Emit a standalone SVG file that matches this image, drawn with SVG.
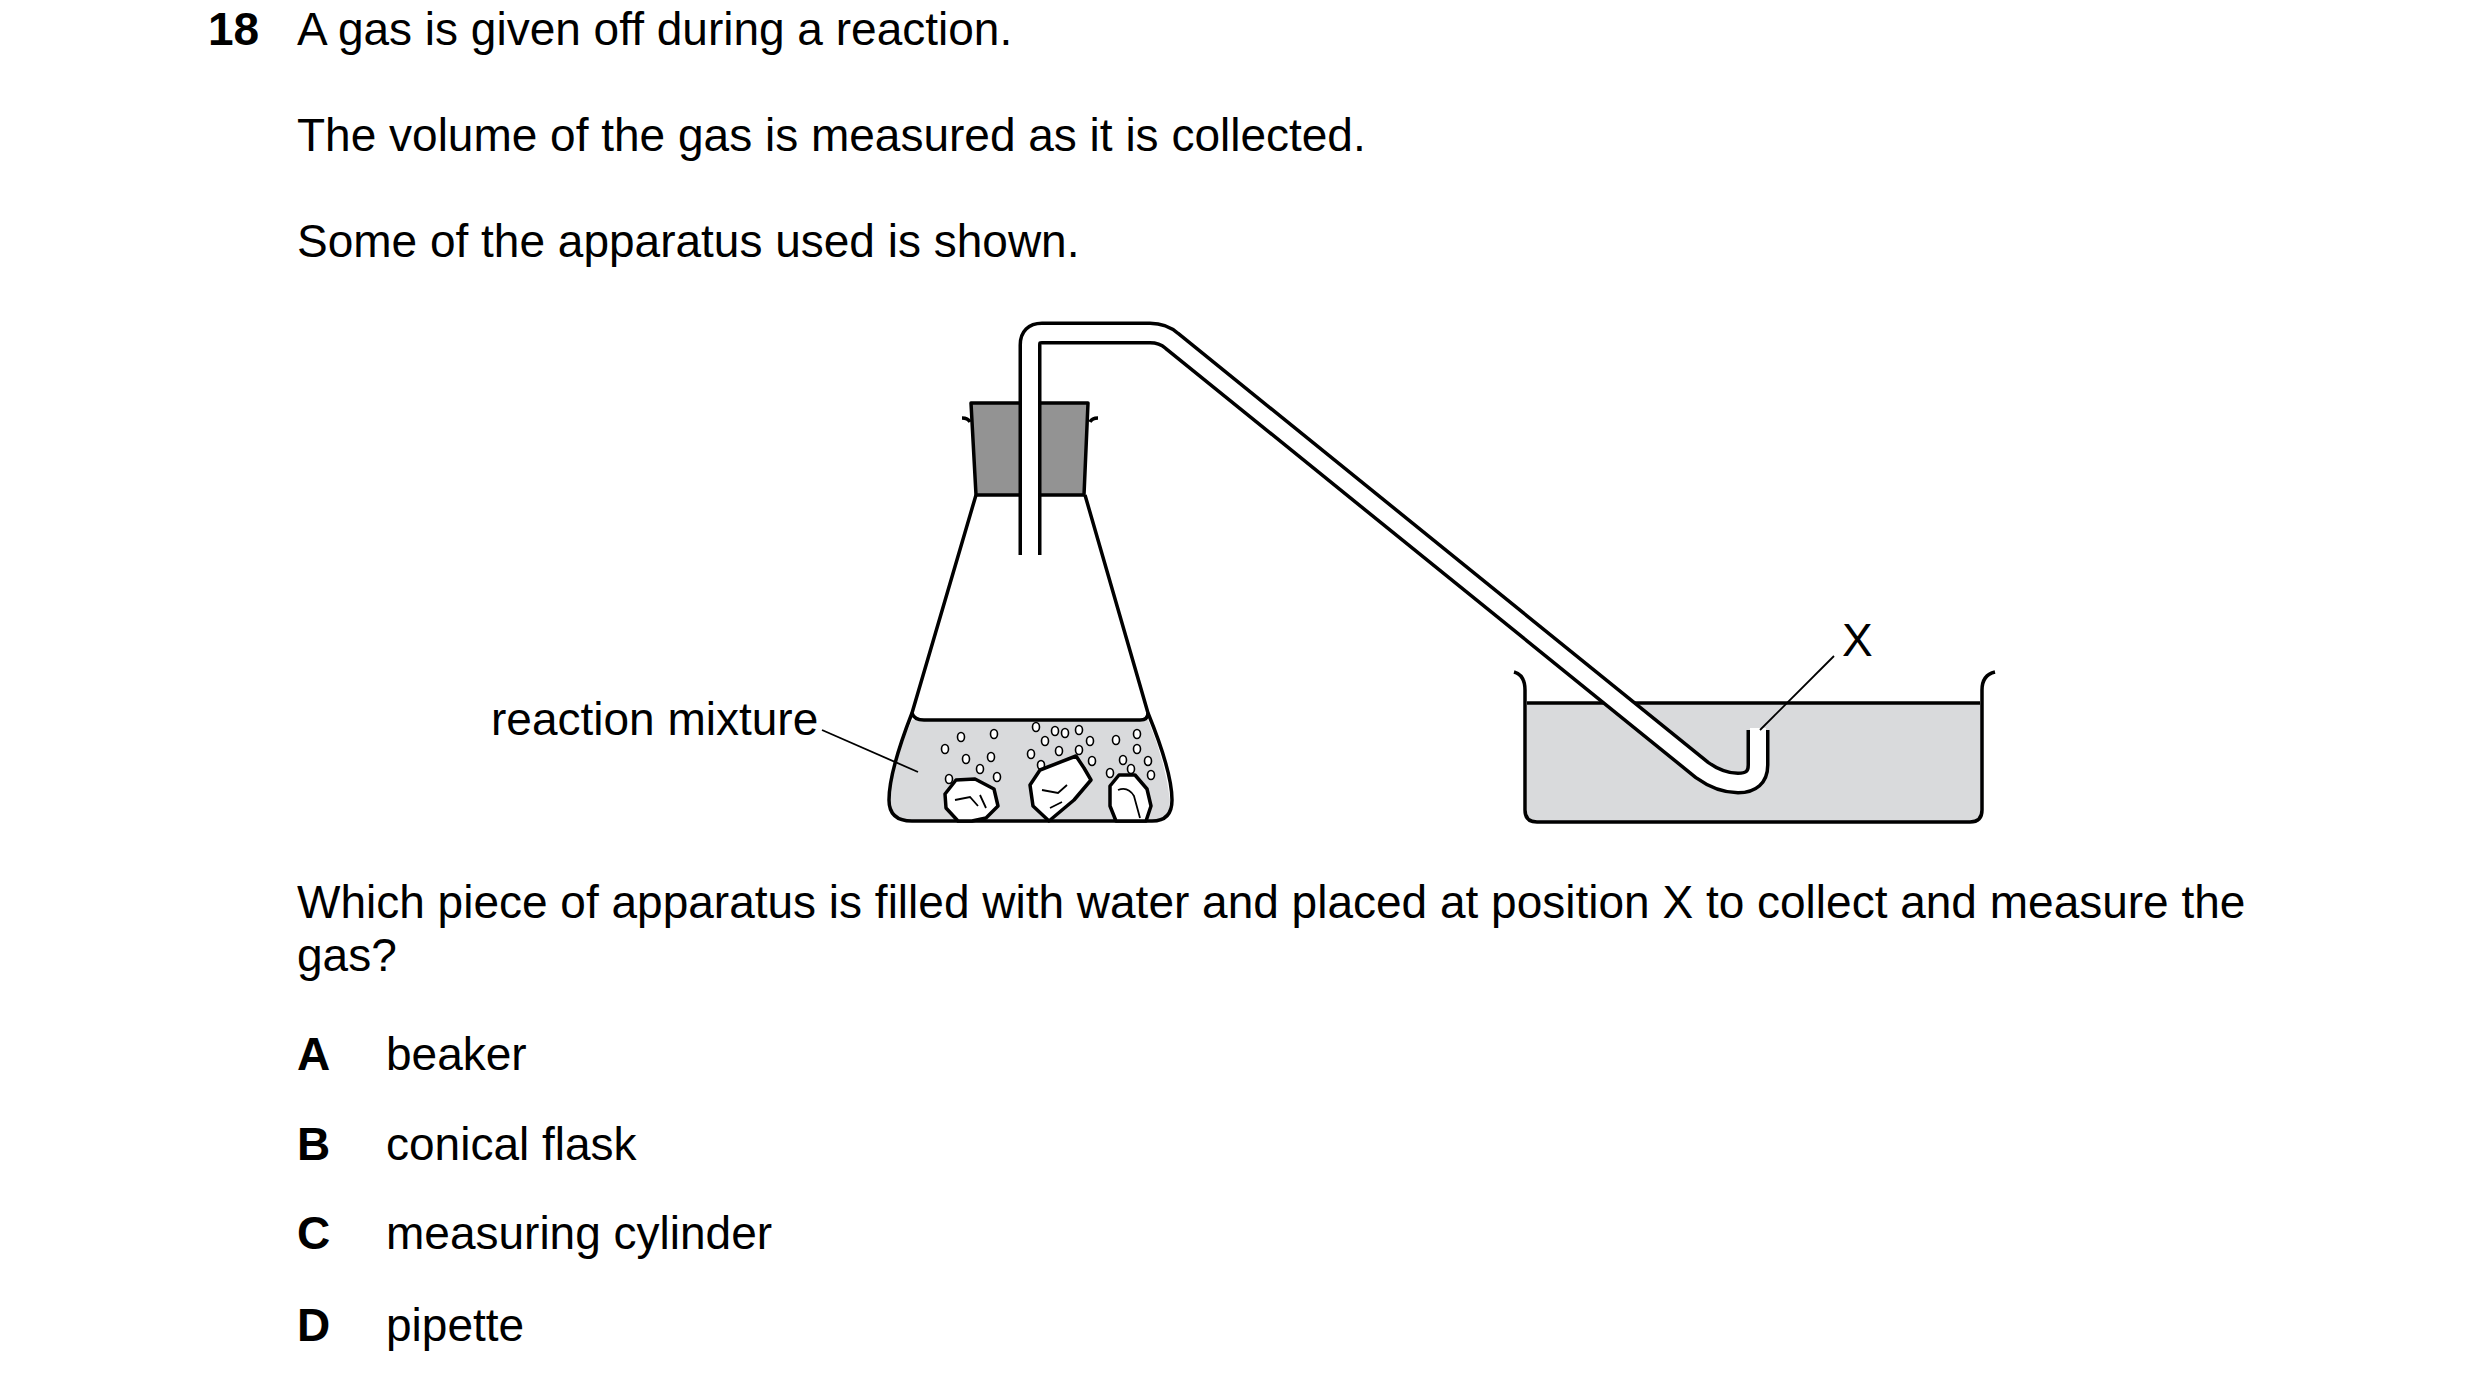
<svg xmlns="http://www.w3.org/2000/svg" width="2480" height="1385" viewBox="0 0 2480 1385">
<style>
text{font-family:"Liberation Sans",Arial,sans-serif;font-size:46px;fill:#000}
.b{font-weight:bold}
.ln{fill:none;stroke:#000;stroke-width:3.5;stroke-linejoin:round}
.thin{fill:none;stroke:#000;stroke-width:1.8}
.bub{fill:#fff;stroke:#000;stroke-width:1.6}
.rock{fill:#fff;stroke:#000;stroke-width:3.5;stroke-linejoin:round}
</style>
<rect width="2480" height="1385" fill="#fff"/>
<g id="question">
<text x="208" y="45" class="b">18</text>
<text x="297" y="45">A gas is given off during a reaction.</text>
<text x="297" y="151">The volume of the gas is measured as it is collected.</text>
<text x="297" y="257">Some of the apparatus used is shown.</text>
<text x="297" y="918">Which piece of apparatus is filled with water and placed at position X to collect and measure the</text>
<text x="297" y="971">gas?</text>
</g>
<g id="options">
<text x="297" y="1070" class="b">A</text><text x="386" y="1070">beaker</text>
<text x="297" y="1160" class="b">B</text><text x="386" y="1160">conical flask</text>
<text x="297" y="1249" class="b">C</text><text x="386" y="1249">measuring cylinder</text>
<text x="297" y="1341" class="b">D</text><text x="386" y="1341">pipette</text>
</g>
<g id="basin">
<path d="M1527,703 H1982 V810 Q1982,822 1970,822 H1539 Q1527,822 1527,810 Z" fill="#d9dadc"/>
<path class="ln" d="M1514,672 Q1525,675 1525,690 V810 Q1525,822 1537,822 H1970 Q1982,822 1982,810 V690 Q1982,675 1995,672"/>
<line class="ln" x1="1527" y1="703" x2="1980" y2="703"/>
</g>
<g id="flask">
<path d="M912,720 H1148 Q1165,760 1170,800 Q1170,821 1152,821 H910 Q889,821 889,800 Q894,760 912,720 Z" fill="#d9dadc"/>
<path class="ln" d="M976,495 L912,713 Q889,772 889,800 Q889,821 912,821 H1152 Q1172,821 1172,800 Q1172,772 1148,713 L1085,495"/>
<path class="ln" d="M912,713 Q914,720 924,720 H1140 Q1148,720 1148,713"/>
<path class="ln" d="M962,418 Q968,418 970,422 M1098,418 Q1092,418 1090,422"/>
<path d="M971,403 H1088 L1084,495 H976 Z" fill="#939393" stroke="#000" stroke-width="3.5" stroke-linejoin="round"/>
<g id="bubbles">
<ellipse class="bub" cx="961" cy="737" rx="3.5" ry="4.5"/><ellipse class="bub" cx="994" cy="734" rx="3.5" ry="4.5"/>
<ellipse class="bub" cx="945" cy="749" rx="3.5" ry="4.5"/><ellipse class="bub" cx="966" cy="759" rx="3.5" ry="4.5"/>
<ellipse class="bub" cx="991" cy="757" rx="3.5" ry="4.5"/><ellipse class="bub" cx="980" cy="769" rx="3.5" ry="4.5"/>
<ellipse class="bub" cx="997" cy="777" rx="3.5" ry="4.5"/><ellipse class="bub" cx="949" cy="779" rx="3.5" ry="4.5"/>
<ellipse class="bub" cx="1036" cy="727" rx="3.5" ry="4.5"/><ellipse class="bub" cx="1055" cy="731" rx="3.5" ry="4.5"/>
<ellipse class="bub" cx="1065" cy="733" rx="3.5" ry="4.5"/><ellipse class="bub" cx="1079" cy="730" rx="3.5" ry="4.5"/>
<ellipse class="bub" cx="1045" cy="741" rx="3.5" ry="4.5"/><ellipse class="bub" cx="1090" cy="741" rx="3.5" ry="4.5"/>
<ellipse class="bub" cx="1059" cy="751" rx="3.5" ry="4.5"/><ellipse class="bub" cx="1079" cy="750" rx="3.5" ry="4.5"/>
<ellipse class="bub" cx="1031" cy="754" rx="3.5" ry="4.5"/><ellipse class="bub" cx="1092" cy="761" rx="3.5" ry="4.5"/>
<ellipse class="bub" cx="1041" cy="765" rx="3.5" ry="4.5"/><ellipse class="bub" cx="1116" cy="740" rx="3.5" ry="4.5"/>
<ellipse class="bub" cx="1137" cy="734" rx="3.5" ry="4.5"/><ellipse class="bub" cx="1137" cy="749" rx="3.5" ry="4.5"/>
<ellipse class="bub" cx="1123" cy="760" rx="3.5" ry="4.5"/><ellipse class="bub" cx="1148" cy="761" rx="3.5" ry="4.5"/>
<ellipse class="bub" cx="1131" cy="769" rx="3.5" ry="4.5"/><ellipse class="bub" cx="1110" cy="773" rx="3.5" ry="4.5"/>
<ellipse class="bub" cx="1151" cy="775" rx="3.5" ry="4.5"/>
</g>
<g id="rocks">
<path class="rock" d="M958,821 L946,808 L945,794 L956,780 L975,779 L994,789 L998,806 L986,818 L972,821 Z"/>
<path class="thin" d="M955,800 L970,797 L978,806 M980,795 L986,808"/>
<path class="rock" d="M1049,821 L1033,806 L1030,785 L1040,770 L1076,756 L1084,768 L1091,780 L1074,800 Z"/>
<path class="thin" d="M1042,790 L1058,793 L1067,785 M1050,808 L1062,802"/>
<path class="rock" d="M1116,821 L1110,806 L1110,786 L1119,775 L1135,775 L1147,789 L1151,806 L1146,821 Z"/>
<path class="thin" d="M1118,790 Q1128,786 1134,796 L1140,818"/>
</g>
</g>
<g id="tube">
<path d="M1030,555 V345 Q1030,333 1042,333 H1150 Q1163,333 1172,341 L1702,770 Q1720,783 1738,783 Q1758,783 1758,765 V730" fill="none" stroke="#000" stroke-width="23" stroke-linejoin="round"/>
<path d="M1030,557 V345 Q1030,333 1042,333 H1150 Q1163,333 1172,341 L1702,770 Q1720,783 1738,783 Q1758,783 1758,765 V728" fill="none" stroke="#fff" stroke-width="16" stroke-linejoin="round"/>
</g>
<g id="connectors">
<line class="thin" x1="822" y1="730" x2="918" y2="772"/>
<line class="thin" x1="1834" y1="656" x2="1760" y2="730"/>
</g>
<g id="labels">
<text x="491" y="735">reaction mixture</text>
<text x="1842" y="656">X</text>
</g>
</svg>
